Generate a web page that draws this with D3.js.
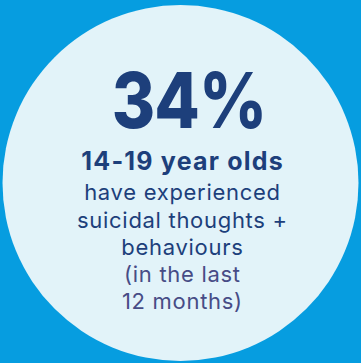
<!DOCTYPE html>
<html><head><meta charset="utf-8">
<script src="https://cdn.jsdelivr.net/npm/d3@7"></script>
<style>html,body{margin:0;padding:0;background:#069de0;overflow:hidden}</style>
</head><body>
<script>
const statValue = ["34%"];
const headline = ["14-19 year olds"];
const bodyLines = ["have experienced", "suicidal thoughts +", "behaviours"];
const noteLines = ["(in the last", "12 months)"];

const W = 361, H = 363;
const svg = d3.select("body").append("svg").attr("width", W).attr("height", H);
svg.append("rect").attr("width", W).attr("height", H).attr("fill", "#069de0");
svg.append("circle").attr("cx", 180.5).attr("cy", 183).attr("r", 178).attr("fill", "#e2f3f9");

const cx = 182;
const font = "Inter, 'Noto Sans', sans-serif";
svg.append("g").attr("transform", `translate(${cx + 7},128) scale(0.86,1)`)
  .selectAll("text.stat").data(statValue).join("text")
  .attr("x", 0).attr("y", 0).attr("text-anchor", "middle")
  .attr("font-family", font).attr("font-weight", 800).attr("font-size", 77)
  .attr("letter-spacing", -1)
  .attr("fill", "#1d3f7b").text(d => d);
svg.selectAll("text.head").data(headline).join("text")
  .attr("x", cx + 0.6).attr("y", 170).attr("text-anchor", "middle")
  .attr("font-family", font).attr("font-weight", 700).attr("font-size", 25)
  .attr("letter-spacing", 1.2)
  .attr("fill", "#1d3f7b").text(d => d);
svg.selectAll("text.body").data(bodyLines).join("text")
  .attr("x", cx + 0.4).attr("y", (d, i) => 200 + i * 27.5).attr("text-anchor", "middle")
  .attr("font-family", font).attr("font-weight", 400).attr("font-size", 22)
  .attr("letter-spacing", 0.7)
  .attr("fill", "#1d3f7b").text(d => d);
svg.selectAll("text.note").data(noteLines).join("text")
  .attr("x", cx + 0.4).attr("y", (d, i) => 282 + i * 26.5).attr("text-anchor", "middle")
  .attr("font-family", font).attr("font-weight", 400).attr("font-size", 22)
  .attr("letter-spacing", 0.7)
  .attr("fill", "#474c86").text(d => d);
</script>
</body></html>
